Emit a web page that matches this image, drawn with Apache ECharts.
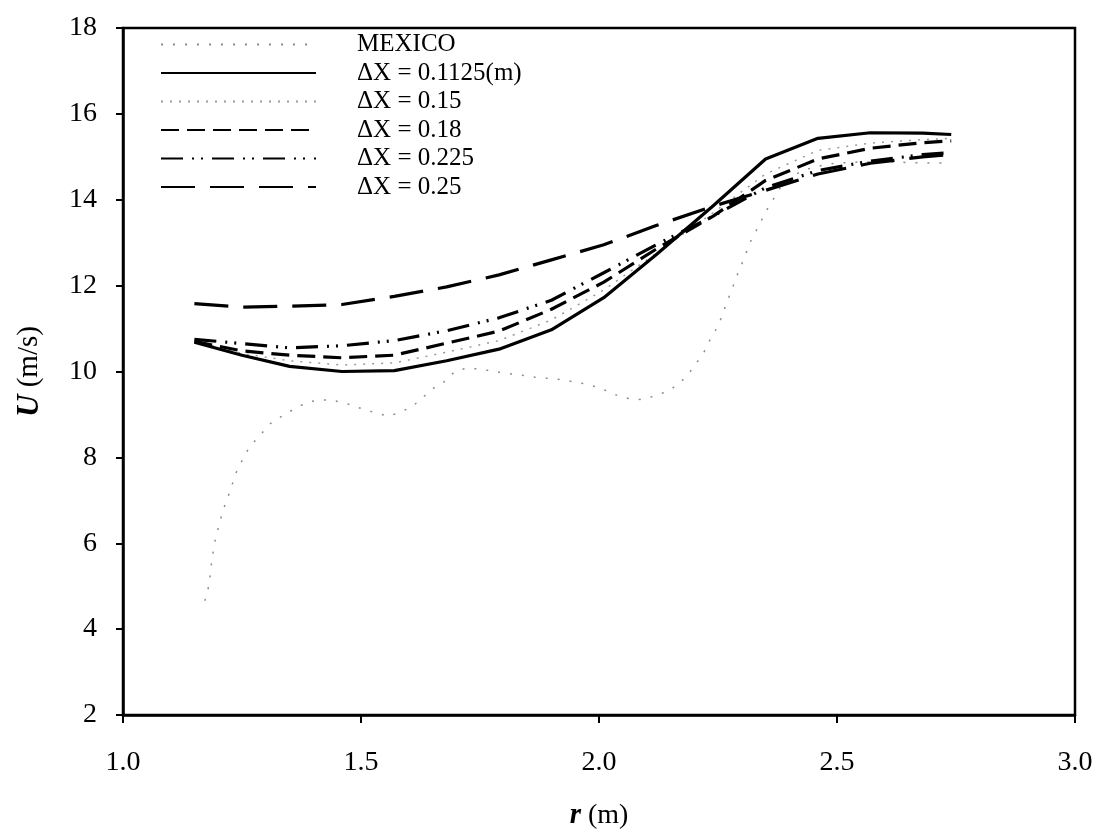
<!DOCTYPE html>
<html>
<head>
<meta charset="utf-8">
<script src="https://cdn.jsdelivr.net/npm/echarts@6/dist/echarts.min.js"></script>
<style>
html,body{margin:0;padding:0;background:#fff;}
#chart{width:1096px;height:833px;}
</style>
</head>
<body>
<div id="chart"></div>
<script>
// ---- data ----
const xTicks = [1.0, 1.5, 2.0, 2.5, 3.0];
const yTicks = [2, 4, 6, 8, 10, 12, 14, 16, 18];
const seriesNames = ['MEXICO', 'ΔX = 0.1125(m)', 'ΔX = 0.15', 'ΔX = 0.18', 'ΔX = 0.225', 'ΔX = 0.25'];

const mexicoR = [1.172,1.179,1.183,1.186,1.19,1.195,1.202,1.209,1.219,1.228,1.237,1.249,1.262,1.277,1.293,1.31,1.328,1.349,1.372,1.393,1.419,1.444,1.468,1.489,1.511,1.536,1.559,1.582,1.603,1.622,1.639,1.658,1.678,1.697,1.723,1.746,1.771,1.796,1.82,1.845,1.869,1.894,1.922,1.946,1.967,1.992,2.016,2.037,2.062,2.086,2.111,2.134,2.153,2.174,2.191,2.205,2.221,2.233,2.247,2.259,2.268,2.279,2.289,2.3,2.31,2.321,2.335,2.349,2.363,2.377,2.395,2.422,2.454,2.496,2.548,2.611,2.674,2.74];
const mexicoU = [4.66,4.95,5.24,5.55,5.84,6.15,6.42,6.73,7.03,7.32,7.63,7.9,8.17,8.38,8.58,8.79,8.92,9.06,9.2,9.3,9.34,9.32,9.26,9.18,9.1,9.02,8.96,9.05,9.16,9.31,9.49,9.66,9.78,10.0,10.08,10.06,10.02,9.97,9.94,9.9,9.86,9.84,9.81,9.76,9.72,9.65,9.55,9.45,9.37,9.35,9.41,9.5,9.6,9.78,9.99,10.2,10.46,10.73,11.0,11.3,11.6,11.9,12.21,12.5,12.79,13.1,13.37,13.7,13.95,14.23,14.45,14.65,14.77,14.85,14.88,14.88,14.86,14.85];

const simR = [1.15,1.25,1.35,1.46,1.57,1.68,1.79,1.90,2.01,2.12,2.24,2.35,2.46,2.57,2.68,2.74];
const u01125 = [10.68,10.38,10.12,10.0,10.02,10.25,10.52,10.97,11.72,12.72,13.86,14.95,15.43,15.56,15.55,15.52];
const u015   = [10.70,10.42,10.25,10.15,10.20,10.45,10.72,11.20,11.90,12.75,13.70,14.60,15.15,15.32,15.40,15.43];
const u018   = [10.70,10.48,10.38,10.32,10.38,10.66,10.94,11.45,12.08,12.85,13.62,14.45,14.95,15.20,15.33,15.37];
const u0225  = [10.75,10.65,10.55,10.60,10.72,10.95,11.25,11.66,12.30,12.95,13.62,14.28,14.68,14.90,15.05,15.10];
const u025   = [11.58,11.50,11.52,11.56,11.75,11.97,12.25,12.60,12.95,13.40,13.85,14.22,14.60,14.85,15.00,15.05];

function pairs(xs, ys){ return xs.map((x,i)=>[x, ys[i]]); }

const chart = echarts.init(document.getElementById('chart'), null, {renderer:'canvas'});
const FONT = '"Liberation Serif", "Times New Roman", serif';

function lineSeries(name, data, color, width, dash, z){
  return {
    name: name, type: 'line', data: data, symbol: 'none', showSymbol: false, smooth: false,
    z: z,
    lineStyle: {color: color, width: width, type: dash},
    itemStyle: {color: color},
    emphasis: {disabled: true}, animation: false
  };
}

const option = {
  animation: false,
  backgroundColor: '#ffffff',
  grid: {left: 123, right: 21, top: 28, bottom: 118, containLabel: false, outerBoundsMode: 'none',
         show: true, borderColor: '#000', borderWidth: 2.5, backgroundColor: 'transparent'},
  legend: {
    orient: 'vertical', left: 155, top: 27,
    itemWidth: 155, itemHeight: 14, itemGap: 3.5,
    itemStyle: {opacity: 0},
    textStyle: {fontFamily: FONT, fontSize: 25, color: '#000', padding: [0,0,0,36]},
    data: seriesNames
  },
  xAxis: {
    type: 'value', min: 1, max: 3, interval: 0.5,
    axisLine: {show: true, onZero: false, lineStyle: {color: '#000', width: 2.5}},
    axisTick: {show: true, inside: false, length: 8, lineStyle: {color: '#000', width: 2}},
    splitLine: {show: false},
    axisLabel: {fontFamily: FONT, fontSize: 28, color: '#000', margin: 34, formatter: v => v.toFixed(1)},
    name: '{b|r}{n| (m)}', nameLocation: 'middle', nameGap: 86,
    nameTextStyle: {rich: {b: {fontFamily: FONT, fontSize: 29, fontWeight: 'bold', fontStyle: 'italic', color: '#000'}, n: {fontFamily: FONT, fontSize: 28, color: '#000'}}}
  },
  yAxis: {
    type: 'value', min: 2, max: 18, interval: 2,
    axisLine: {show: true, onZero: false, lineStyle: {color: '#000', width: 2.5}},
    axisTick: {show: true, inside: false, length: 7, lineStyle: {color: '#000', width: 2}},
    splitLine: {show: false},
    axisLabel: {fontFamily: FONT, fontSize: 28, color: '#000', margin: 26},
    name: '{b|U}{n| (m/s)}', nameLocation: 'middle', nameGap: 78, nameRotate: 90,
    nameTextStyle: {rich: {b: {fontFamily: FONT, fontSize: 31, fontWeight: 'bold', fontStyle: 'italic', color: '#000'}, n: {fontFamily: FONT, fontSize: 29, color: '#000'}}}
  },
  series: [
    lineSeries(seriesNames[0], pairs(mexicoR, mexicoU), '#8c8c8c', 1.5, [2, 10], 2),
    lineSeries(seriesNames[1], pairs(simR, u01125), '#000', 3.2, 'solid', 5),
    lineSeries(seriesNames[2], pairs(simR, u015), '#9a9a9a', 1.5, [2, 7], 3),
    lineSeries(seriesNames[3], pairs(simR, u018), '#000', 3.2, [18, 8], 4),
    lineSeries(seriesNames[4], pairs(simR, u0225), '#000', 3.2, [22, 9, 2, 7, 2, 9], 4),
    lineSeries(seriesNames[5], pairs(simR, u025), '#000', 3.2, [34, 15], 4)
  ]
};
chart.setOption(option);
</script>
</body>
</html>
